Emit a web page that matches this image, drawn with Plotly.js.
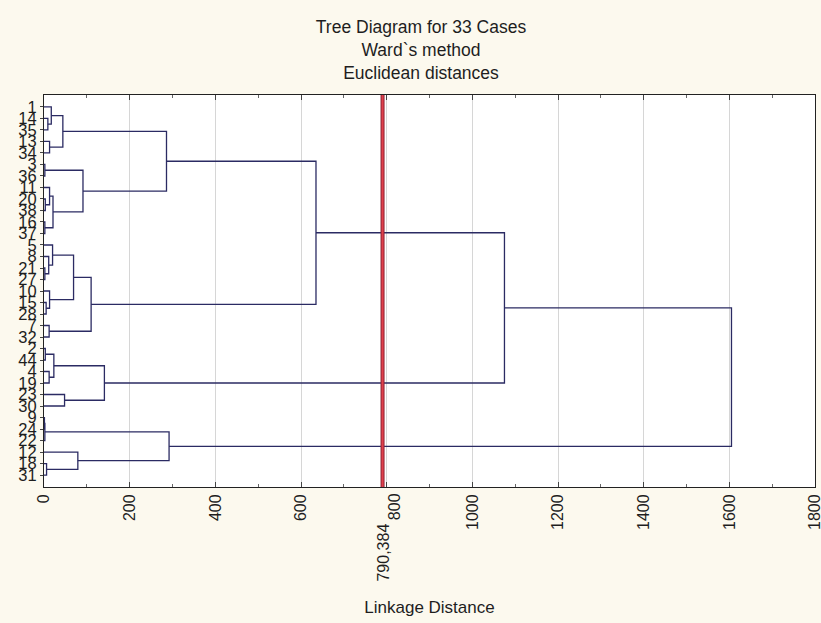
<!DOCTYPE html>
<html><head><meta charset="utf-8">
<script src="https://cdn.plot.ly/plotly-3.0.1.min.js"></script>
<style>html,body{margin:0;padding:0;background:#fcf9ee;}</style>
</head><body><div id="chart" style="width:821px;height:623px;"></div>
<script>
// ---- data ----
const leafLabels = ["1","14","35","13","34","3","36","11","20","38","16","37","5","8","21","27","10","15","28","7","32","2","44","4","19","23","30","9","24","22","12","18","31"];
const mergeNames  = ["a1","a2","a3","A","b1","b2","b3","b4","b5","B","AB","c1","c2","c3","c4","c5","c6","c7","C","ABC","d1","d2","d3","d4","D","ABCD","e1","e2","e3","e4","E","root"];
const mergeLeft   = ["14","1","13","a2","3","20","11","16","b3","b1","A","21","8","5","15","10","c3","7","c6","AB","2","4","d1","23","d3","ABC","9","e1","18","12","e2","ABCD"];
const mergeRight  = ["35","a1","34","a3","36","38","b2","37","b4","b5","B","27","c1","c2","28","c4","c5","32","c7","C","44","19","d2","30","d4","D","24","22","31","e3","e4","E"];
const mergeHeight = [9,17,13,44,2,3,13,2,21,91,286,2,11,20,5,13,69,12,110,635,3,12,23,48,141,1075,1,2,6,79,292,1605];
const xTickValues = [0,200,400,600,800,1000,1200,1400,1600,1800];
const xTickLabels = ["0","200","400","600","","1000","1200","1400","1600","1800"];
const shiftedTickValue = 800;
const shiftedTickLabel = "800";
const cutDistance = 790.384;
const cutLabel = "790,384";

// ---- build dendrogram geometry from the linkage ----
const pos = {};
leafLabels.forEach((l, i) => { pos[l] = {x: 0, y: i + 1}; });
const xs = [], ys = [];
mergeNames.forEach((n, i) => {
  const a = pos[mergeLeft[i]], b = pos[mergeRight[i]], h = mergeHeight[i];
  xs.push(a.x, h, h, b.x, null);
  ys.push(a.y, a.y, b.y, b.y, null);
  pos[n] = {x: h, y: (a.y + b.y) / 2};
});

const FONT = "Liberation Sans, Arial, sans-serif";
const TXT = "#1e1e1e";

const trace = {
  x: xs, y: ys, type: "scatter", mode: "lines",
  line: {color: "#2b2b63", width: 1.3}, hoverinfo: "skip", showlegend: false
};

const layout = {
  width: 821, height: 623,
  paper_bgcolor: "#fcf9ee", plot_bgcolor: "#ffffff",
  margin: {l: 44, r: 6, t: 95, b: 136},
  showlegend: false,
  title: {
    text: "Tree Diagram for 33 Cases<br>Ward`s method<br>Euclidean distances",
    font: {family: FONT, size: 17.5, color: TXT},
    x: 421/821, xref: "container", xanchor: "center",
    y: 1 - 33/623, yref: "container", yanchor: "top"
  },
  xaxis: {
    range: [0, 1800], tickvals: xTickValues, ticktext: xTickLabels,
    tickangle: -90, tickfont: {family: FONT, size: 16, color: TXT},
    ticklabeloverflow: "allow",
    ticks: "inside", ticklen: 5, tickcolor: "#444",
    minor: {dtick: 100, ticks: "inside", ticklen: 3, tickcolor: "#666", showgrid: false},
    showgrid: true, gridcolor: "#d6d6d6", gridwidth: 1,
    showline: true, linecolor: "#222", linewidth: 1, mirror: "ticks",
    zeroline: false, automargin: false,
    title: {text: "Linkage Distance", font: {family: FONT, size: 17, color: TXT}, standoff: 72}
  },
  yaxis: {
    range: [34.04, -0.04], tickvals: leafLabels.map((l, i) => i + 1), ticktext: leafLabels,
    tickfont: {family: FONT, size: 16.5, color: TXT},
    ticklabeloverflow: "allow",
    ticks: "outside", ticklen: 3, tickcolor: "#444",
    showgrid: false, zeroline: false,
    showline: true, linecolor: "#222", linewidth: 1, mirror: true,
    automargin: false
  },
  shapes: [
    {type: "line", xref: "x", yref: "paper", x0: cutDistance, x1: cutDistance, y0: 0, y1: 1,
     line: {color: "#8e2233", width: 4}},
    {type: "line", xref: "x", yref: "paper", x0: cutDistance, x1: cutDistance, y0: 0, y1: 1,
     line: {color: "#e0404c", width: 2}}
  ],
  annotations: [
    {x: cutDistance, xref: "x", y: -66/392, yref: "paper", text: cutLabel, textangle: -90,
     showarrow: false, xanchor: "center", yanchor: "middle",
     font: {family: FONT, size: 16, color: TXT}},
    {x: shiftedTickValue, xref: "x", xshift: 8, y: -19.5/392, yref: "paper", text: shiftedTickLabel, textangle: -90,
     showarrow: false, xanchor: "center", yanchor: "middle",
     font: {family: FONT, size: 16, color: TXT}}
  ]
};

Plotly.newPlot("chart", [trace], layout, {displayModeBar: false, staticPlot: true});
</script>
</body></html>
